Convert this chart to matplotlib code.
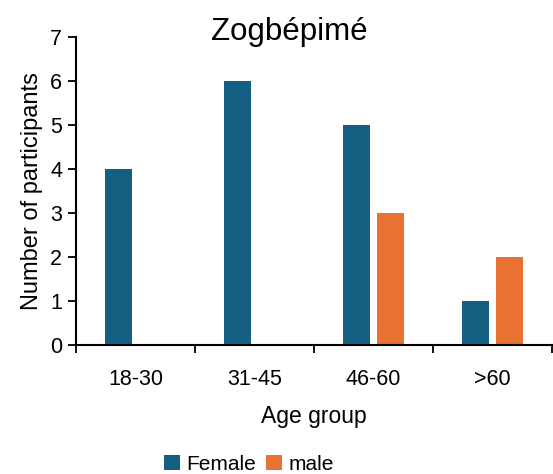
import numpy as np
import matplotlib
matplotlib.use("Agg")
import matplotlib.pyplot as plt

plt.rcParams['font.family'] = ['Liberation Sans', 'DejaVu Sans']

groups = ["18-30", "31-45", "46-60", ">60"]
female = [4, 6, 5, 1]
male = [0, 0, 3, 2]

c_female = "#156082"
c_male = "#E97132"

fig = plt.figure(figsize=(5.53, 4.74), dpi=100)
ax = fig.add_axes([0.1374, 0.272, 0.8606, 0.65])

x = np.arange(len(groups))
w = 0.227
off = 0.143
ax.bar(x - off, female, w, color=c_female, label="Female")
ax.bar(x + off, male, w, color=c_male, label="male")

ax.set_xlim(-0.5, len(groups) - 0.5)
ax.set_ylim(0, 7)
ax.set_yticks(range(0, 8))

# category boundaries as ticks, labels centred
ax.set_xticks(np.arange(-0.5, len(groups), 1.0))
ax.set_xticklabels([])
ax.set_xticks(x, minor=True)
ax.set_xticklabels(groups, minor=True)
ax.tick_params(axis="x", which="minor", length=0, pad=17, labelsize=15.5)
ax.tick_params(axis="x", which="major", length=6, width=1.3, direction="out")
ax.tick_params(axis="y", length=6, width=1.3, direction="out", labelsize=15.5, pad=4)

for s in ["top", "right"]:
    ax.spines[s].set_visible(False)
for s in ["left", "bottom"]:
    ax.spines[s].set_linewidth(1.5)

ax.set_xlabel("Age group", fontsize=16.5, labelpad=11)
ax.set_ylabel("Number of participants", fontsize=17, labelpad=5)
fig.text(0.524, 0.916, "Zogbépimé", fontsize=22.5, ha="center", va="baseline")

fig.legend(loc="center", bbox_to_anchor=(0.45, 0.02), ncol=2, frameon=False,
           fontsize=15, handlelength=0.75, handleheight=0.75, handletextpad=0.3,
           columnspacing=0.5, borderaxespad=0)

fig.savefig("out.png", dpi=100)
